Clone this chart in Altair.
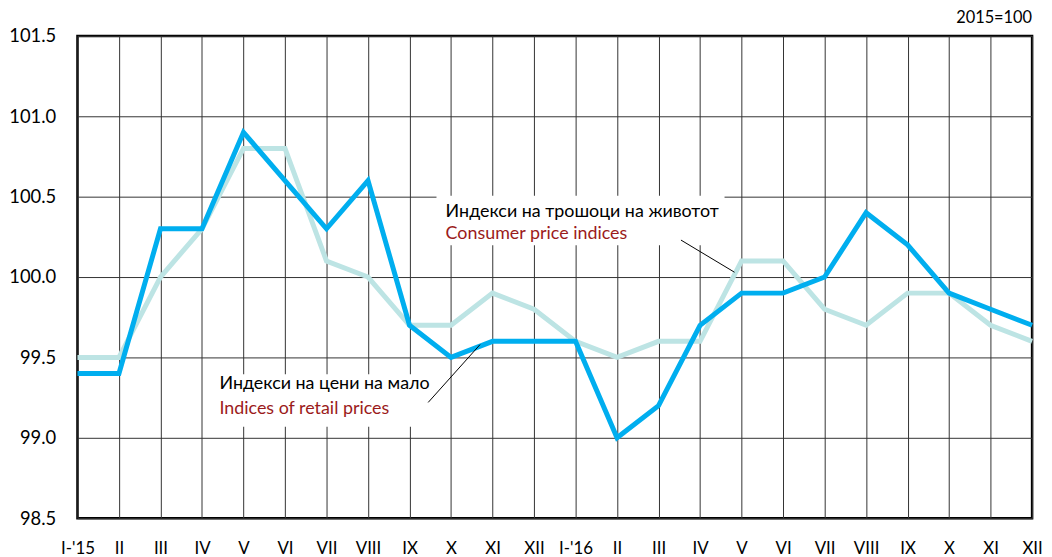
import altair as alt
import pandas as pd

months = ["I-'15", "II", "III", "IV", "V", "VI", "VII", "VIII", "IX", "X", "XI", "XII",
          "I-'16", "II", "III", "IV", "V", "VI", "VII", "VIII", "IX", "X", "XI", "XII"]
retail = [99.4, 99.4, 100.3, 100.3, 100.9, 100.6, 100.3, 100.6, 99.7, 99.5, 99.6, 99.6,
          99.6, 99.0, 99.2, 99.7, 99.9, 99.9, 100.0, 100.4, 100.2, 99.9, 99.8, 99.7]
consumer = [99.5, 99.5, 100.0, 100.3, 100.8, 100.8, 100.1, 100.0, 99.7, 99.7, 99.9, 99.8,
            99.6, 99.5, 99.6, 99.6, 100.1, 100.1, 99.8, 99.7, 99.9, 99.9, 99.7, 99.6]

# annotation texts (placed in data coordinates)
ann_text = ["Индекси на трошоци на животот", "Consumer price indices",
            "Индекси на цени на мало", "Indices of retail prices"]
ann_x = [8.87, 8.87, 3.42, 3.42]
ann_y = [100.407, 100.265, 99.333, 99.179]
ann_color = ["black", "#9B1B1B", "black", "#9B1B1B"]

box_x = [8.65, 3.23]
box_x2 = [15.59, 8.58]
box_y = [100.506, 99.395]
box_y2 = [100.198, 99.068]

ptr_x = [14.54, 8.45]
ptr_x2 = [15.83, 9.7]
ptr_y = [100.23, 99.22]
ptr_y2 = [100.03, 99.58]

unit_note = ["2015=100"]

idx = list(range(len(months)))
df = pd.DataFrame({"i": idx, "retail": retail, "consumer": consumer})
ann = pd.DataFrame({"t": ann_text, "x": ann_x, "y": ann_y, "c": ann_color})
boxes = pd.DataFrame({"x": box_x, "x2": box_x2, "y": box_y, "y2": box_y2})
ptrs = pd.DataFrame({"x": ptr_x, "x2": ptr_x2, "y": ptr_y, "y2": ptr_y2})
note = pd.DataFrame({"t": unit_note})

FONT = "Lato"
label_expr = "[" + ",".join('"' + m + '"' for m in months) + "][datum.value]"

xscale = alt.Scale(domain=[0, 23], nice=False, zero=False)
yscale = alt.Scale(domain=[98.5, 101.5], nice=False, zero=False)

xaxis = alt.Axis(values=idx, labelExpr=label_expr, title=None, ticks=False, labelFlush=False,
                 labelPadding=23, labelFontSize=17, labelFont=FONT, labelColor="black",
                 grid=True, gridColor="#333333", gridWidth=1, domain=False)
yaxis = alt.Axis(values=[98.5, 99.0, 99.5, 100.0, 100.5, 101.0, 101.5], format=".1f",
                 labelFlush=False,
                 title=None, ticks=False, labelPadding=22, labelFontSize=18.5, labelFont=FONT,
                 labelColor="black", grid=True, gridColor="#333333", gridWidth=1, domain=False)

base = alt.Chart(df)

light = base.mark_line(color="#BDE4E4", strokeWidth=5, strokeJoin="miter").encode(
    x=alt.X("i:Q", scale=xscale, axis=xaxis),
    y=alt.Y("consumer:Q", scale=yscale, axis=yaxis),
)
dark = base.mark_line(color="#00AEEF", strokeWidth=5, strokeJoin="miter").encode(
    x=alt.X("i:Q", scale=xscale),
    y=alt.Y("retail:Q", scale=yscale),
)

box_layer = alt.Chart(boxes).mark_rect(color="white").encode(
    x=alt.X("x:Q", scale=xscale), x2="x2:Q",
    y=alt.Y("y:Q", scale=yscale), y2="y2:Q",
)
ptr_layer = alt.Chart(ptrs).mark_rule(color="black", strokeWidth=1).encode(
    x=alt.X("x:Q", scale=xscale), x2="x2:Q",
    y=alt.Y("y:Q", scale=yscale), y2="y2:Q",
)
text_layer = alt.Chart(ann).mark_text(align="left", baseline="middle", fontSize=18, font=FONT).encode(
    x=alt.X("x:Q", scale=xscale),
    y=alt.Y("y:Q", scale=yscale),
    text="t:N",
    color=alt.Color("c:N", scale=None),
)
note_layer = alt.Chart(note).mark_text(align="right", baseline="middle", fontSize=16.5,
                                       font=FONT, color="black").encode(
    x=alt.value(962), y=alt.value(-18), text="t:N",
)

chart = alt.layer(box_layer, light, dark, ptr_layer, text_layer, note_layer).properties(
    width=962, height=486,
    autosize=alt.AutoSizeParams(type="none"),
    padding={"left": 70, "top": 26, "right": 12, "bottom": 37},
).configure_view(stroke="black", strokeWidth=2.5)

chart.save("out.html", embed_options={"renderer": "svg", "actions": False})
